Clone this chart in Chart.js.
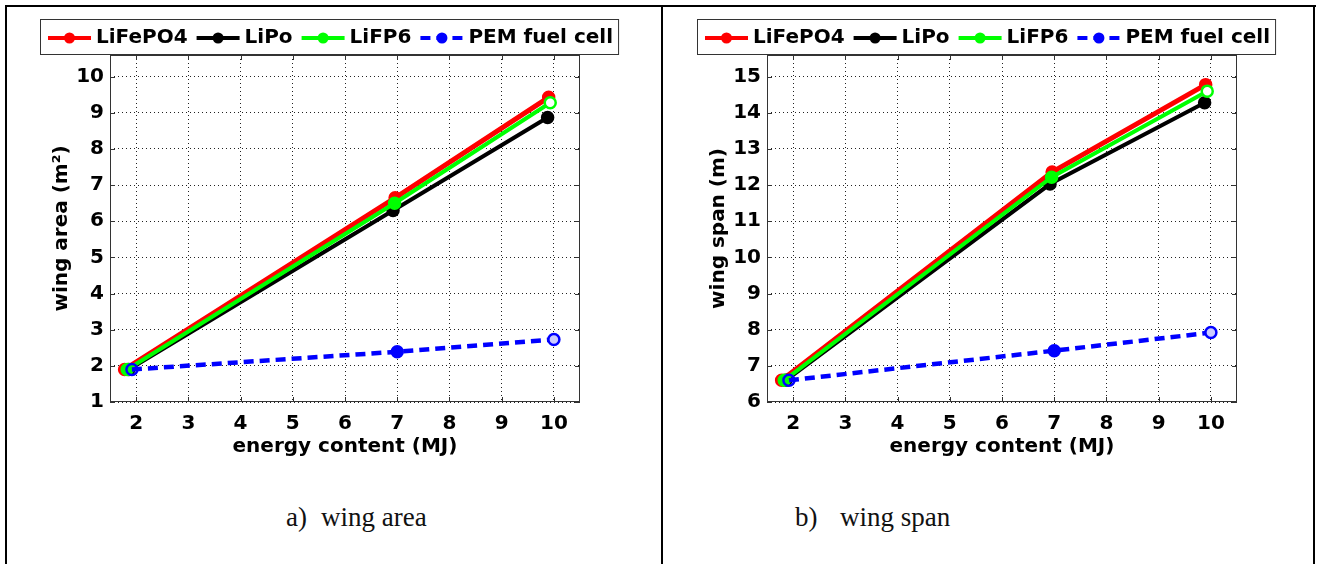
<!DOCTYPE html>
<html>
<head>
<meta charset="utf-8">
<script src="https://cdn.jsdelivr.net/npm/chart.js@4.4.1/dist/chart.umd.min.js"></script>
<style>
    body { margin: 0; background: #fff; width: 1320px; height: 564px; overflow: hidden; position: relative; }
    .panel { position: absolute; top: 0; width: 660px; height: 480px; }
    #areaPanel { left: 0; }
    #spanPanel { left: 657px; }
    .rule { position: absolute; background: #000; }
    .caption { position: absolute; top: 502px; font-family: "Liberation Serif", serif; font-size: 27px; line-height: 30px; color: #111; white-space: nowrap; }
</style>
</head>
<body>
<div class="panel" id="areaPanel"><canvas id="wingAreaChart" width="660" height="480"></canvas></div>
<div class="panel" id="spanPanel"><canvas id="wingSpanChart" width="660" height="480"></canvas></div>

<div class="rule" style="left:5px; top:5px; width:1311px; height:2px;"></div>
<div class="rule" style="left:5px; top:5px; width:2px; height:559px;"></div>
<div class="rule" style="left:661px; top:5px; width:2px; height:559px;"></div>
<div class="rule" style="left:1313px; top:5px; width:2px; height:559px;"></div>

<div class="caption" style="left:286px;">a)</div>
<div class="caption" style="left:321px;">wing area</div>
<div class="caption" style="left:795px;">b)</div>
<div class="caption" style="left:840px;">wing span</div>

<script>
// battery / fuel cell options
const seriesNames = ['LiFePO4', 'LiPo', 'LiFP6', 'PEM fuel cell'];
const seriesColors = ['#ff0000', '#000000', '#00ff00', '#0000ff'];

// energy content (MJ) of each design point
const energyLiFePO4 = [1.78, 6.96, 9.9];
const energyLiPo = [1.86, 6.92, 9.88];
const energyLiFP6 = [1.83, 6.95, 9.93];
const energyPEM = [1.92, 7.0, 10.0];

// wing area (m^2)
const areaLiFePO4 = [1.9, 6.65, 9.43];
const areaLiPo = [1.9, 6.3, 8.87];
const areaLiFP6 = [1.9, 6.5, 9.28];
const areaPEM = [1.9, 2.39, 2.73];

// wing span (m)
const spanLiFePO4 = [6.6, 12.36, 14.78];
const spanLiPo = [6.6, 12.03, 14.28];
const spanLiFP6 = [6.6, 12.22, 14.6];
const spanPEM = [6.6, 7.42, 7.92];

// tick labels
const energyTicks = [2, 3, 4, 5, 6, 7, 8, 9, 10];
const areaTicks = [1, 2, 3, 4, 5, 6, 7, 8, 9, 10];
const spanTicks = [6, 7, 8, 9, 10, 11, 12, 13, 14, 15];

const energyByCell = [energyLiFePO4, energyLiPo, energyLiFP6, energyPEM];

Chart.defaults.font.family = '"DejaVu Sans", Verdana, sans-serif';
Chart.defaults.font.weight = 'bold';
Chart.defaults.font.size = 20;
Chart.defaults.color = '#000';

// plot box with inward ticks on all four sides
const framePlugin = {
    id: 'frame',
    beforeDatasetsDraw(chart) {
        const { ctx, chartArea: a, scales } = chart;
        ctx.save();
        ctx.strokeStyle = '#333';
        ctx.lineWidth = 1;
        ctx.strokeRect(a.left + 0.5, a.top + 0.5, a.right - a.left - 1, a.bottom - a.top - 1);
        ctx.beginPath();
        scales.x.ticks.forEach(t => {
            const px = Math.round(scales.x.getPixelForValue(t.value)) + 0.5;
            ctx.moveTo(px, a.bottom); ctx.lineTo(px, a.bottom - 5);
            ctx.moveTo(px, a.top); ctx.lineTo(px, a.top + 5);
        });
        scales.y.ticks.forEach(t => {
            const py = Math.round(scales.y.getPixelForValue(t.value)) + 0.5;
            ctx.moveTo(a.left, py); ctx.lineTo(a.left + 5, py);
            ctx.moveTo(a.right, py); ctx.lineTo(a.right - 5, py);
        });
        ctx.stroke();
        ctx.restore();
    }
};

// boxed legend sitting on top of the plot, line + marker samples
const boxLegendPlugin = {
    id: 'boxLegend',
    afterDraw(chart) {
        const { ctx, chartArea: a } = chart;
        const sets = chart.data.datasets;
        const left = a.left - 70, top = a.top - 36, h = 36;
        const midY = top + h / 2 + 1;
        ctx.save();
        ctx.font = 'bold 20px "DejaVu Sans", Verdana, sans-serif';
        let x = left + 8;
        const items = sets.map(ds => {
            const item = { ds, x };
            x += 48 + ctx.measureText(ds.label).width + 9;
            return item;
        });
        const right = x - 9 + 6;
        ctx.fillStyle = '#fff';
        ctx.fillRect(left, top, right - left, h);
        ctx.strokeStyle = '#333';
        ctx.lineWidth = 1;
        ctx.strokeRect(left + 0.5, top + 0.5, right - left - 1, h - 1);

        items.forEach(({ ds, x }) => {
            ctx.strokeStyle = ds.borderColor;
            ctx.lineWidth = 4;
            ctx.setLineDash(ds.borderDash || []);
            ctx.beginPath();
            ctx.moveTo(x, midY);
            ctx.lineTo(x + 43, midY);
            ctx.stroke();
            ctx.setLineDash([]);
            ctx.fillStyle = ds.borderColor;
            ctx.beginPath();
            ctx.arc(x + 21.5, midY, 5.5, 0, Math.PI * 2);
            ctx.fill();
            ctx.fillStyle = '#000';
            ctx.textBaseline = 'middle';
            ctx.fillText(ds.label, x + 48, midY);
        });
        ctx.restore();
    }
};

function toPoints(xs, ys) {
    return xs.map((x, i) => ({ x: x, y: ys[i] }));
}

function makeChart(canvasId, valuesByCell, yTicks, yMin, yMax, yTitle) {
    const ctx = document.getElementById(canvasId).getContext('2d');
    const ringFills = [null, null, ['#00ff00', '#00ff00', '#ffffff'], ['rgba(0,0,0,0)', '#0000ff', '#ccccff']];
    const lineWidths = [5, 4, 4, 4.5];

    const datasets = seriesNames.map((name, i) => ({
        label: name,
        data: toPoints(energyByCell[i], valuesByCell[i]),
        borderColor: seriesColors[i],
        backgroundColor: seriesColors[i],
        pointBackgroundColor: ringFills[i] || seriesColors[i],
        pointBorderColor: seriesColors[i],
        borderWidth: lineWidths[i],
        borderDash: i === 3 ? [10, 6] : [],
        pointRadius: 5.5,
        pointBorderWidth: 2.5,
        showLine: true,
        tension: 0,
        order: 4 - i
    }));

    return new Chart(ctx, {
        type: 'scatter',
        data: { datasets: datasets },
        options: {
            responsive: false,
            animation: false,
            layout: { padding: { top: 55, right: 80, left: 0, bottom: 0 } },
            plugins: {
                legend: { display: false },
                tooltip: { enabled: false }
            },
            scales: {
                x: {
                    type: 'linear',
                    min: 1.5,
                    max: 10.5,
                    afterBuildTicks: scale => { scale.ticks = energyTicks.map(v => ({ value: v })); },
                    afterFit: scale => { scale.height = 78; },
                    ticks: { padding: 10, font: { size: 20, weight: 'bold' } },
                    grid: { color: '#222', lineWidth: 1, drawTicks: false },
                    border: { display: false, dash: [1, 3] },
                    title: {
                        display: true,
                        text: 'energy content (MJ)',
                        font: { size: 20, weight: 'bold' },
                        padding: { top: 0, bottom: 21 }
                    }
                },
                y: {
                    type: 'linear',
                    min: yMin,
                    max: yMax,
                    afterBuildTicks: scale => { scale.ticks = yTicks.map(v => ({ value: v })); },
                    afterFit: scale => { scale.width = 110; },
                    ticks: { padding: 6, font: { size: 20, weight: 'bold' } },
                    grid: { color: '#222', lineWidth: 1, drawTicks: false },
                    border: { display: false, dash: [1, 3] },
                    title: {
                        display: true,
                        text: yTitle,
                        font: { size: 20, weight: 'bold' },
                        padding: { top: 50, bottom: 0 }
                    }
                }
            }
        },
        plugins: [framePlugin, boxLegendPlugin]
    });
}

window.wingAreaChart = makeChart('wingAreaChart',
    [areaLiFePO4, areaLiPo, areaLiFP6, areaPEM], areaTicks, 1, 10.6, 'wing area (m²)');
window.wingSpanChart = makeChart('wingSpanChart',
    [spanLiFePO4, spanLiPo, spanLiFP6, spanPEM], spanTicks, 6, 15.6, 'wing span (m)');
</script>
</body>
</html>
